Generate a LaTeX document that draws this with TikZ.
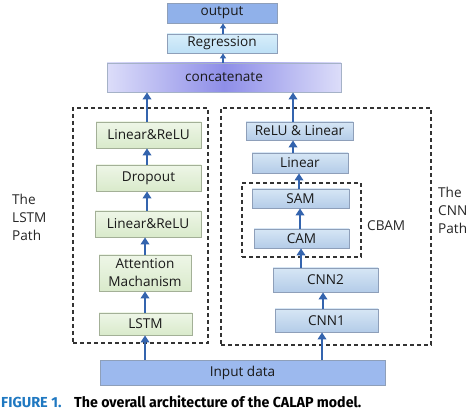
\documentclass[tikz,border=0pt]{standalone}
\usepackage{fontspec}
\setmainfont{Open Sans}
\newfontfamily\capfont{Fira Sans}
\usetikzlibrary{arrows.meta}
\definecolor{gborder}{HTML}{A3B097}
\definecolor{gtop}{HTML}{EEF6E7}
\definecolor{gbot}{HTML}{D9EACB}
\definecolor{bborder}{HTML}{8E9FB9}
\definecolor{btop}{HTML}{D6E6F5}
\definecolor{bbot}{HTML}{B4CCE8}
\definecolor{outc}{HTML}{90B1EA}
\definecolor{regtop}{HTML}{D8EEFA}
\definecolor{regbot}{HTML}{BDE0F6}
\definecolor{catedge}{HTML}{DCDDF9}
\definecolor{catmid}{HTML}{8E8EE8}
\definecolor{inc}{HTML}{9CB9EE}
\definecolor{arrc}{HTML}{3464AE}
\definecolor{dashc}{HTML}{333333}
\definecolor{capblue}{HTML}{1F78C1}
\newcommand{\fs}{\fontsize{13.6}{18}\selectfont}
\newcommand{\capfs}{\capfont\bfseries\fontsize{14.5}{16}\selectfont}
\begin{document}
\begin{tikzpicture}[x=1pt,y=-1pt,
  base/.style={inner sep=0pt, font=\fs, text=black!90},
  gbox/.style={base, draw=gborder, line width=0.8pt, top color=gtop, bottom color=gbot},
  bbox/.style={base, draw=bborder, line width=0.8pt, top color=btop, bottom color=bbot},
  dbox/.style={draw=dashc, line width=1.2pt, dash pattern=on 4pt off 3pt, inner sep=0pt},
  arr/.style={draw=arrc, line width=2.6pt, -{Triangle[length=7pt,width=8.5pt]}},
  sarr/.style={draw=arrc, line width=1.8pt, -{Triangle[length=5pt,width=6pt]}},
  lbl/.style={font=\fs, text=black!85, inner sep=0pt, align=left}]
\useasboundingbox (0,0) rectangle (474,411);
% top
\node[base, draw=bborder, line width=0.8pt, fill=outc, minimum width=110, minimum height=20] (out) at (222,13) {output};
\node[base, draw=bborder, line width=0.8pt, top color=regtop, bottom color=regbot, minimum width=110, minimum height=19] (reg) at (222,43.5) {Regression};
\node[base, draw=bborder!80, line width=0.8pt, left color=catedge, right color=catedge, middle color=catmid, minimum width=234, minimum height=29] (cat) at (224,77.5) {concatenate};
% dashed containers
\node[dbox, minimum width=135, minimum height=235] (lstmpath) at (140.5,225.5) {};
\node[dbox, minimum width=210, minimum height=237] (cnnpath) at (326,226.5) {};
\node[dbox, minimum width=119, minimum height=74] (cbam) at (301.5,220) {};
% LSTM path
\node[gbox, minimum width=105, minimum height=26] (l1) at (148.5,135) {Linear\&ReLU};
\node[gbox, minimum width=105, minimum height=26] (l2) at (148.5,178) {Dropout};
\node[gbox, minimum width=106, minimum height=26] (l3) at (148,224) {Linear\&ReLU};
\node[gbox, minimum width=92, minimum height=36, align=center] (l4) at (145,273) {Attention\\Machanism};
\node[gbox, minimum width=93, minimum height=22] (l5) at (145.5,324) {LSTM};
% CNN path
\node[bbox, minimum width=107, minimum height=18] (c1) at (299.5,131) {ReLU \& Linear};
\node[bbox, minimum width=96, minimum height=20] (c2) at (300,163) {Linear};
\node[bbox, minimum width=97, minimum height=19] (sam) at (300.5,198.5) {SAM};
\node[bbox, minimum width=95, minimum height=19] (cam) at (301.5,238.5) {CAM};
\node[bbox, minimum width=105, minimum height=24] (cnn2) at (325.5,280) {CNN2};
\node[bbox, minimum width=103, minimum height=23] (cnn1) at (326.5,320.5) {CNN1};
% input
\node[base, draw=bborder, line width=0.8pt, fill=inc, minimum width=285, minimum height=25] (in) at (242.5,372.5) {Input data};
% labels
\node[lbl, anchor=north west] (tl) at (12,194) {The\\LSTM\\Path};
\node[lbl, anchor=west] (tcbam) at (367,226) {CBAM};
\node[lbl, anchor=north west] (tc) at (438,187) {The\\CNN\\Path};
% columns for arrows
\coordinate (xm) at (223,0);
\coordinate (xl) at (147,0);
\coordinate (xli) at (145,0);
\coordinate (xc) at (293,0);
\coordinate (xs) at (299,0);
\coordinate (xs2) at (300,0);
\coordinate (xs3) at (301,0);
\coordinate (xn) at (323,0);
\coordinate (xn2) at (322,0);
% arrows
\draw[sarr] (reg.north -| xm) -- (out.south -| xm);
\draw[sarr] (cat.north -| xm) -- (reg.south -| xm);
\draw[arr] (l1.north -| xl) -- (cat.south -| xl);
\draw[arr] (l2.north -| xl) -- (l1.south -| xl);
\draw[arr] (l3.north -| xl) -- (l2.south -| xl);
\draw[arr] (l4.north -| xli) -- (l3.south -| xli);
\draw[arr] (l5.north -| xli) -- (l4.south -| xli);
\draw[arr] (in.north -| xli) -- (l5.south -| xli);
\draw[arr] (c1.north -| xc) -- (cat.south -| xc);
\draw[arr] (c2.north -| xc) -- (c1.south -| xc);
\draw[arr] (sam.north -| xs) -- (c2.south -| xs);
\draw[arr] (cam.north -| xs2) -- (sam.south -| xs2);
\draw[arr] (cnn2.north -| xs3) -- (cam.south -| xs3);
\draw[arr] (cnn1.north -| xn) -- (cnn2.south -| xn);
\draw[arr] (in.north -| xn2) -- (cnn1.south -| xn2);
% caption
\node[anchor=base west, inner sep=0pt, text=capblue] (cap1) at (1,407.5) {\scalebox{1.0}[1]{\capfs FIGURE 1.}};
\node[anchor=base west, inner sep=0pt, text=black] (cap2) at (74,407.5) {\scalebox{0.98}[1]{\capfs The overall architecture of the CALAP model.}};
\end{tikzpicture}
\end{document}
